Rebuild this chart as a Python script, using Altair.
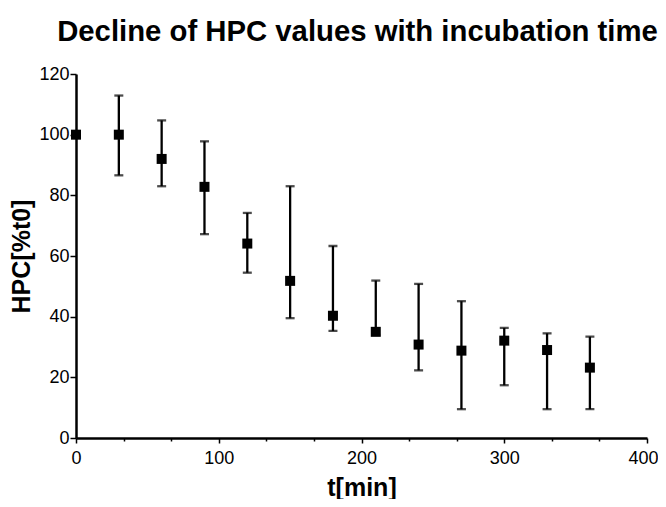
import altair as alt
import pandas as pd

# Data
t_min = [0, 30, 60, 90, 120, 150, 180, 210, 240, 270, 300, 330, 360]
hpc = [100, 100, 92, 82.8, 64.1, 51.8, 40.3, 35.0, 30.8, 28.8, 32.1, 29.0, 23.2]
err_low = [100, 86.6, 83.0, 67.2, 54.5, 39.5, 35.3, 34.0, 22.3, 9.5, 17.4, 9.5, 9.5]
err_high = [100, 112.9, 104.7, 97.8, 74.2, 83.0, 63.3, 51.9, 50.8, 45.1, 36.3, 34.5, 33.4]

x_ticks = [0, 100 / 3, 200 / 3, 100, 400 / 3, 500 / 3, 200, 700 / 3, 800 / 3, 300, 1000 / 3, 1100 / 3, 400]
y_ticks = [0, 10, 20, 30, 40, 50, 60, 70, 80, 90, 100, 110, 120]

df = pd.DataFrame({"t": t_min, "hpc": hpc, "lo": err_low, "hi": err_high})

FONT = "Liberation Sans"

x_scale = alt.Scale(domain=[0, 400], nice=False, zero=False)
y_scale = alt.Scale(domain=[0, 120], nice=False)

x_axis = alt.Axis(
    values=x_ticks,
    labelExpr="abs(datum.value % 100) < 0.01 ? datum.label : ''",
    format="d",
    tickSize={"condition": {"test": "abs(datum.value % 100) < 0.01", "value": 5}, "value": 3},
    tickWidth=1.5,
    tickColor="black",
    domainColor="black",
    domainWidth=2.5,
    grid=False,
    labelFont=FONT,
    labelFontSize=18,
    labelColor="black",
    labelPadding=6,
    labelFlush=False,
    labelOverlap=False,
    labelAlign={"condition": {"test": "datum.value >= 399", "value": "right"}, "value": "center"},
    labelOffset={"condition": {"test": "datum.value >= 399", "value": 11}, "value": 0},
    title="t[min]",
    titleFont=FONT,
    titleFontSize=25,
    titleFontWeight="bold",
    titleColor="black",
    titlePadding=8,
)

y_axis = alt.Axis(
    values=y_ticks,
    labelExpr="datum.value % 20 === 0 ? datum.label : ''",
    tickSize={"condition": {"test": "datum.value % 20 === 0", "value": 6}, "value": 4},
    tickWidth=1.5,
    tickColor="black",
    domainColor="black",
    domainWidth=2.5,
    grid=False,
    labelFont=FONT,
    labelFontSize=18,
    labelColor="black",
    labelPadding=1,
    labelFlush=False,
    labelOverlap=False,
    title="HPC[%t0]",
    titleFont=FONT,
    titleFontSize=25,
    titleFontWeight="bold",
    titleColor="black",
    titlePadding=4,
)

base = alt.Chart(df)

rules = base.mark_rule(color="black", strokeWidth=2.3).encode(
    x=alt.X("t:Q", scale=x_scale, axis=x_axis),
    y=alt.Y("lo:Q", scale=y_scale, axis=y_axis),
    y2="hi:Q",
)

caps_hi = base.mark_tick(color="black", orient="horizontal", size=9, thickness=2.3).encode(
    x=alt.X("t:Q", scale=x_scale),
    y=alt.Y("hi:Q", scale=y_scale),
)
caps_lo = base.mark_tick(color="black", orient="horizontal", size=9, thickness=2.3).encode(
    x=alt.X("t:Q", scale=x_scale),
    y=alt.Y("lo:Q", scale=y_scale),
)

points = base.mark_point(shape="square", filled=True, color="black", size=100, opacity=1).encode(
    x=alt.X("t:Q", scale=x_scale),
    y=alt.Y("hpc:Q", scale=y_scale),
)

chart = (
    alt.layer(rules, caps_hi, caps_lo, points)
    .properties(
        width=571,
        height=364,
        background="white",
        title=alt.TitleParams(
            "Decline of HPC values with incubation time",
            font=FONT,
            fontSize=29.3,
            fontWeight="bold",
            color="black",
            anchor="middle",
            offset=18,
            dx=-4,
        ),
        autosize=alt.AutoSizeParams(type="none"),
        padding={"left": 68, "top": 66, "right": 11, "bottom": 61},
    )
    .configure_view(stroke=None)
)

chart.save("out.html", embed_options={"renderer": "svg", "actions": False})
